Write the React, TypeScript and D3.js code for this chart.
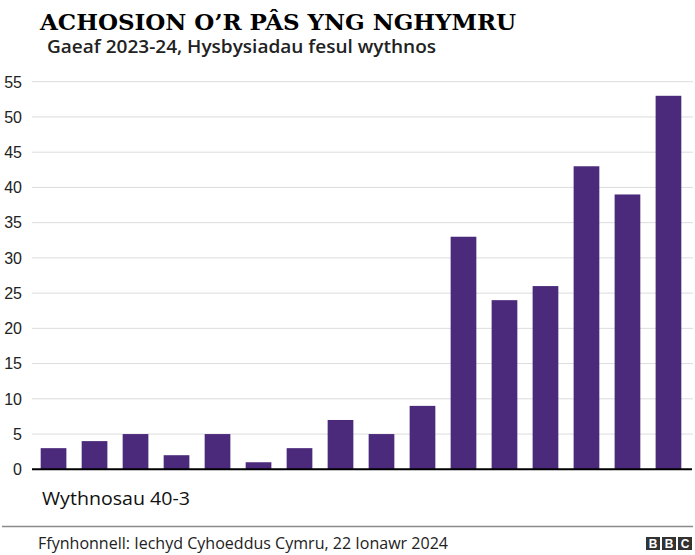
import React from "react";
import * as d3 from "d3";

const weeks = ["40","41","42","43","44","45","46","47","48","49","50","51","52","1","2","3"];
const cases = [3, 4, 5, 2, 5, 1, 3, 7, 5, 9, 33, 24, 26, 43, 39, 53];
const yTicks = [0, 5, 10, 15, 20, 25, 30, 35, 40, 45, 50, 55];

const W = 695, H = 555;
const gridLeft = 32, gridRight = 693, top = 81.7, bottom = 469.3;

export default function App() {
  const x = d3.scaleBand<string>().domain(weeks).range([31.5, 690.5]).paddingInner(0.373).paddingOuter(0.224);
  const y = d3.scaleLinear().domain([0, 55]).range([bottom, top]);
  return (
    <svg width={W} height={H} style={{ position: "absolute", left: 0, top: 0, background: "#fff" }}>
      <text x={40} y={30} fontFamily="'DejaVu Serif', serif" fontWeight="bold" fontSize={23} fill="#000">ACHOSION O’R PÂS YNG NGHYMRU</text>
      <text x={47} y={53} fontFamily="'Open Sans', sans-serif" fontWeight="600" fontSize={18} fill="#222" textLength={389} lengthAdjust="spacingAndGlyphs">Gaeaf 2023-24, Hysbysiadau fesul wythnos</text>
      {yTicks.map(t => (
        <g key={t}>
          {t > 0 && <line x1={gridLeft} x2={gridRight} y1={y(t)} y2={y(t)} stroke="#dcdcdc" strokeWidth={1} />}
          <text x={22} y={y(t) + 5.8} textAnchor="end" fontFamily="'Liberation Sans', Arial, sans-serif" fontSize={16} fill="#222">{t}</text>
        </g>
      ))}
      {weeks.map((w, i) => (
        <rect key={w} x={x(w)} y={y(cases[i])} width={x.bandwidth()} height={bottom - y(cases[i])} fill="#4b2a7b" />
      ))}
      <line x1={gridLeft} x2={692} y1={bottom} y2={bottom} stroke="#000" strokeWidth={2} />
      <text x={42} y={505} fontFamily="'Open Sans', sans-serif" fontSize={18} fill="#111" textLength={148} lengthAdjust="spacingAndGlyphs">Wythnosau 40-3</text>
      <line x1={2} x2={693} y1={526.5} y2={526.5} stroke="#8a8a8a" strokeWidth={1.5} />
      <text x={38} y={549} fontFamily="'Open Sans', sans-serif" fontSize={16} fill="#222" textLength={410} lengthAdjust="spacingAndGlyphs">Ffynhonnell: Iechyd Cyhoeddus Cymru, 22 Ionawr 2024</text>
      {["B", "B", "C"].map((c, i) => (
        <g key={i}>
          <rect x={646 + i * 16} y={537} width={14} height={13} fill="#333" />
          <text x={646 + i * 16 + 7} y={548} textAnchor="middle" fontFamily="'Liberation Sans', Arial, sans-serif" fontWeight="bold" fontSize={12} fill="#fff">{c}</text>
        </g>
      ))}
    </svg>
  );
}
